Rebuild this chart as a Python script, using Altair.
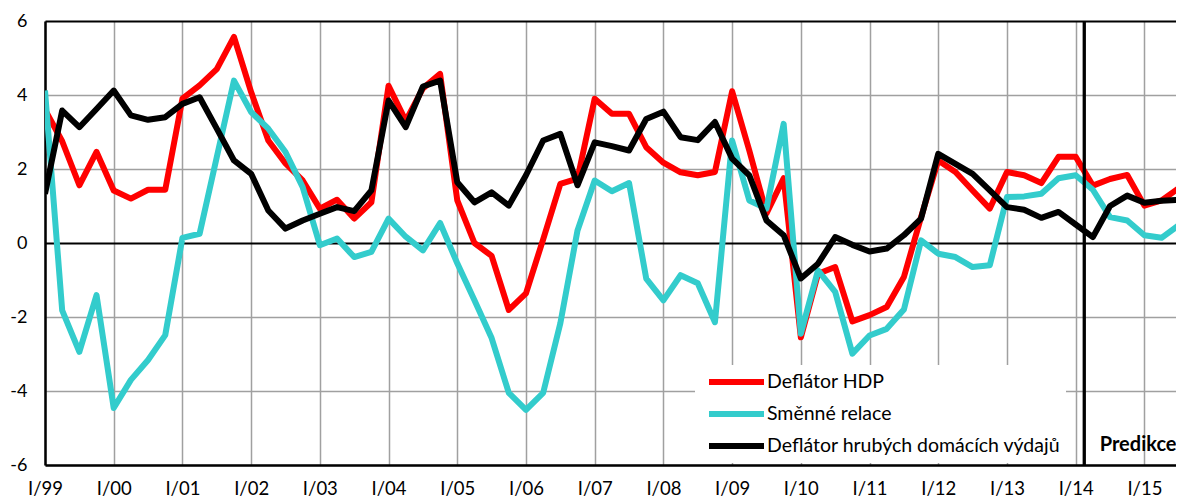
import altair as alt
import pandas as pd

# ---- data (quarterly, I/1999 = index 0) ----
QUARTER = list(range(67))
YEAR_TICKS = list(range(0, 65, 4))
YEAR_LABELS = ["I/99", "I/00", "I/01", "I/02", "I/03", "I/04", "I/05", "I/06", "I/07",
               "I/08", "I/09", "I/10", "I/11", "I/12", "I/13", "I/14", "I/15"]
SERIES = ["Deflátor HDP", "Směnné relace", "Deflátor hrubých domácích výdajů"]
COLORS = ["#ff0000", "#33cccc", "#000000"]

DEFLATOR_HDP = [3.6, 2.75, 1.56, 2.46, 1.42, 1.2, 1.44, 1.44, 3.9, 4.26,
                4.7, 5.57, 4.08, 2.77, 2.15, 1.69, 0.93, 1.17, 0.66, 1.1,
                4.25, 3.3, 4.18, 4.57, 1.15, 0.0, -0.35, -1.81, -1.36, 0.1,
                1.6, 1.74, 3.9, 3.49, 3.49, 2.59, 2.17, 1.91, 1.83, 1.92,
                4.1, 2.5, 0.8, 1.75, -2.55, -0.83, -0.65, -2.12, -1.95, -1.73,
                -0.92, 0.7, 2.23, 1.92, 1.42, 0.93, 1.92, 1.83, 1.62, 2.33,
                2.33, 1.55, 1.73, 1.84, 1.01, 1.15, 1.48]
SMENNE_RELACE = [4.12, -1.82, -2.94, -1.41, -4.46, -3.7, -3.16, -2.49, 0.14, 0.25,
                 2.32, 4.39, 3.54, 3.09, 2.46, 1.51, -0.06, 0.12, -0.38, -0.24,
                 0.66, 0.17, -0.2, 0.54, -0.55, -1.55, -2.57, -4.05, -4.51, -4.05,
                 -2.17, 0.34, 1.69, 1.4, 1.62, -0.96, -1.55, -0.87, -1.09, -2.14,
                 2.77, 1.15, 0.93, 3.22, -2.45, -0.74, -1.32, -2.99, -2.5, -2.32,
                 -1.8, 0.07, -0.29, -0.38, -0.65, -0.6, 1.24, 1.26, 1.33, 1.75,
                 1.83, 1.44, 0.7, 0.61, 0.21, 0.14, 0.48]
DEFLATOR_HDV = [1.33, 3.58, 3.13, 3.62, 4.12, 3.45, 3.33, 3.4, 3.76, 3.94,
                3.09, 2.23, 1.87, 0.88, 0.39, 0.61, 0.79, 0.97, 0.86, 1.42,
                3.85, 3.13, 4.23, 4.39, 1.64, 1.1, 1.37, 1.01, 1.83, 2.77,
                2.95, 1.56, 2.72, 2.62, 2.5, 3.35, 3.55, 2.86, 2.78, 3.27,
                2.28, 1.83, 0.61, 0.21, -0.96, -0.56, 0.16, -0.05, -0.23, -0.15,
                0.21, 0.66, 2.41, 2.14, 1.87, 1.42, 0.97, 0.9, 0.68, 0.84,
                0.5, 0.16, 1.0, 1.28, 1.09, 1.14, 1.17]

PREDIKCE_START = [60.5]
PREDIKCE_LABEL = ["Predikce"]
PREDIKCE_POS_Q = [61.4]
PREDIKCE_POS_V = [-5.46]

rows = []
for name, vals in zip(SERIES, [DEFLATOR_HDP, SMENNE_RELACE, DEFLATOR_HDV]):
    for q, v in zip(QUARTER, vals):
        rows.append({"q": q, "v": v, "s": name})
df = pd.DataFrame(rows)

label_expr = "[" + ",".join(f"'{l}'" for l in YEAR_LABELS) + "][round(datum.value/4)]"
FONT = "Lato"

x_scale = alt.Scale(domain=[0, 65.84], nice=False, zero=False)
y_scale = alt.Scale(domain=[-6, 6], nice=False)

x_enc = alt.X("q:Q", scale=x_scale, axis=alt.Axis(
    values=YEAR_TICKS, labelExpr=label_expr, title=None, grid=True,
    gridColor="#a0a0a0", gridWidth=1.5, ticks=False, domainColor="black",
    domainWidth=2.5, labelFont=FONT, labelFontSize=18.5, labelColor="black",
    labelPadding=14, labelFlush=False, labelOverlap=False))
y_enc = alt.Y("v:Q", scale=y_scale, axis=alt.Axis(
    values=[-6, -4, -2, 0, 2, 4, 6], labelExpr="'' + datum.value", title=None,
    grid=True,
    gridColor={"condition": {"test": "datum.value === 0 || datum.value === 6", "value": "black"},
               "value": "#a0a0a0"},
    gridWidth={"condition": {"test": "datum.value === 0 || datum.value === 6", "value": 2},
               "value": 1.5},
    ticks=False, domainColor="black", domainWidth=2.5, labelFont=FONT,
    labelFontSize=18, labelColor="black", labelPadding=18))

lines = alt.Chart(df).mark_line(strokeWidth=6, strokeJoin="round", clip=True).encode(
    x=x_enc, y=y_enc,
    color=alt.Color("s:N", sort=SERIES,
                    scale=alt.Scale(domain=SERIES, range=COLORS),
                    legend=alt.Legend(title=None, orient="none", legendX=650, legendY=344,
                                      fillColor="white", padding=5, symbolType="stroke",
                                      symbolSize=3025, symbolStrokeWidth=6, clipHeight=24,
                                      rowPadding=8, symbolOffset=6, labelOffset=0,
                                      labelFont=FONT, labelFontSize=19.5, labelColor="black",
                                      labelLimit=500,
                                      labelExpr="datum.label + '    '")),
    detail="s:N",
)

pred_rule = alt.Chart(pd.DataFrame({"q": PREDIKCE_START})).mark_rule(
    color="black", strokeWidth=3.3).encode(x=alt.X("q:Q", scale=x_scale))

pred_text = alt.Chart(pd.DataFrame({"q": PREDIKCE_POS_Q, "v": PREDIKCE_POS_V,
                                    "t": PREDIKCE_LABEL})).mark_text(
    align="left", baseline="middle", font=FONT, fontSize=20, fontWeight="bold",
    color="black").encode(x=alt.X("q:Q", scale=x_scale), y=alt.Y("v:Q", scale=y_scale),
                          text="t:N")

chart = alt.layer(lines, pred_rule, pred_text).properties(
    width=1131, height=444,
    autosize=alt.AutoSizeParams(type="none"),
    padding={"left": 37, "top": 13, "right": 0, "bottom": 38},
).configure_view(stroke=None).configure(font=FONT, background="white")

chart.save("out.html", embed_options={"renderer": "svg", "actions": False})
